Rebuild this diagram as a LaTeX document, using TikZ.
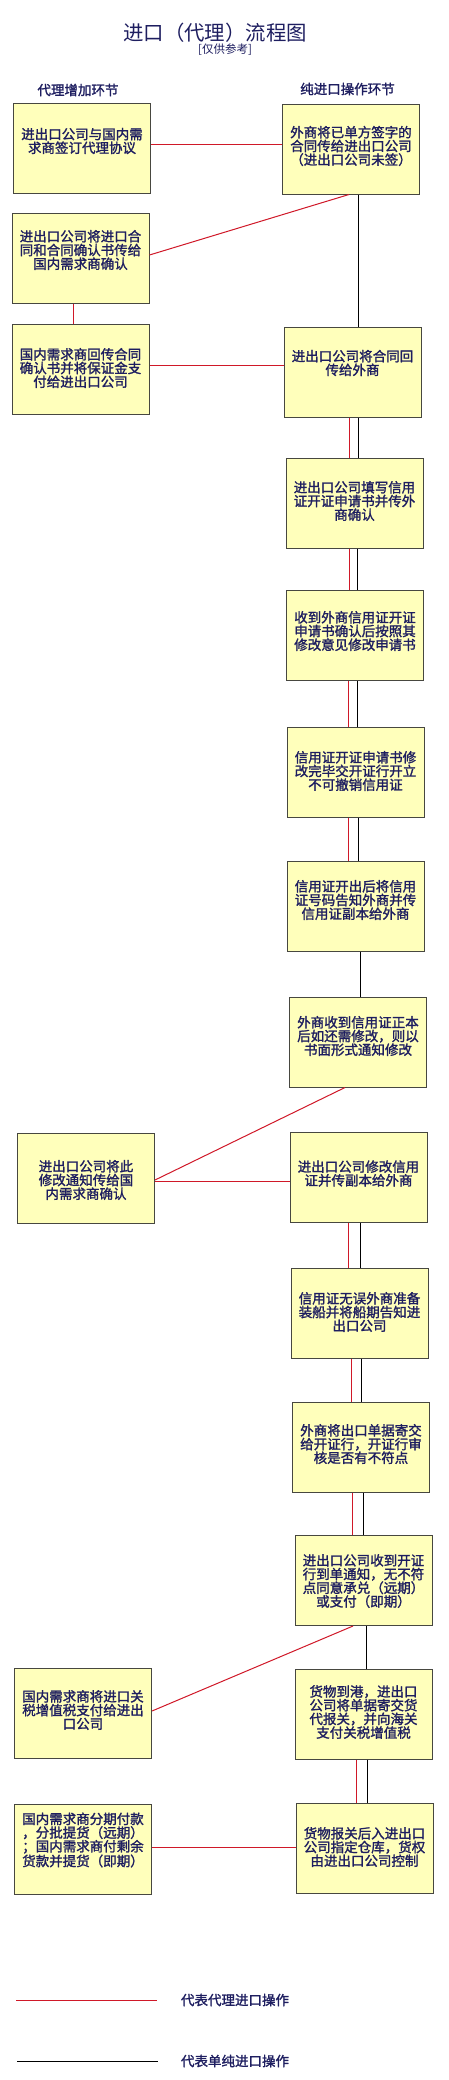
\documentclass[tikz,border=0pt]{standalone}
\usepackage{fontspec}
\newfontfamily\cjk[BoldFont={Noto Sans CJK SC}, BoldFeatures={FakeBold=1.6}]{Noto Sans CJK SC}
\definecolor{boxfill}{HTML}{FFFFBB}
\definecolor{boxline}{HTML}{474740}
\definecolor{navy}{HTML}{1E1E60}
\definecolor{agentred}{HTML}{D01828}
\begin{document}
\begin{tikzpicture}[x=1pt,y=-1pt,
  stepbox/.style={draw=boxline, fill=boxfill, line width=1pt, inner sep=0pt,
    minimum width=137pt, minimum height=90pt},
  txt/.style={text=navy, font=\cjk\bfseries\fontsize{13.5}{13.7}\selectfont,
    align=center, inner sep=0pt},
  head/.style={text=navy, font=\cjk\bfseries\fontsize{13.5}{14}\selectfont, inner sep=0pt},
  redln/.style={draw=agentred, line width=1pt},
  blkln/.style={draw=black, line width=1pt}]
\useasboundingbox[fill=white] (0,0) rectangle (448,2080);

% title
\node[text=navy, font=\cjk\fontsize{20.4}{22}\selectfont, inner sep=0pt] (title) at (215,33) {进口（代理）流程图};
\node[text=navy, font=\cjk\fontsize{11.5}{12}\selectfont, inner sep=0pt] (sub) at (225,50) {[仅供参考]};
\node[head] (hl) at (78,90) {代理增加环节};
\node[head] (hr) at (347.5,89) {纯进口操作环节};

% boxes
\node[stepbox] (L1) at (82,148.5) {};
\node[stepbox] (R1) at (351,149) {};
\node[stepbox] (L2) at (80.5,258.5) {};
\node[stepbox] (L3) at (80.5,369.5) {};
\node[stepbox] (R2) at (352.5,372) {};
\node[stepbox] (R3) at (354.5,503) {};
\node[stepbox] (R4) at (355,635.5) {};
\node[stepbox] (R5) at (355.5,772) {};
\node[stepbox] (R6) at (355.5,906) {};
\node[stepbox] (R7) at (358,1042) {};
\node[stepbox] (L4) at (86,1178.5) {};
\node[stepbox] (R8) at (358.5,1177.5) {};
\node[stepbox] (R9) at (359.5,1313) {};
\node[stepbox] (R10) at (361,1447) {};
\node[stepbox] (R11) at (363.5,1580.5) {};
\node[stepbox] (L5) at (83,1713) {};
\node[stepbox] (R12) at (363.5,1714) {};
\node[stepbox] (L6) at (83,1849.5) {};
\node[stepbox] (R13) at (364.5,1848.5) {};

% texts
\node[txt] (tL1) at (82,141) {进出口公司与国内需\\求商签订代理协议};
\node[txt] (tR1) at (351,146) {外商将已单方签字的\\合同传给进出口公司\\（进出口公司未签）};
\node[txt] (tL2) at (80.5,250) {进出口公司将进口合\\同和合同确认书传给\\国内需求商确认};
\node[txt] (tL3) at (80.5,368) {国内需求商回传合同\\确认书并将保证金支\\付给进出口公司};
\node[txt] (tR2) at (352.5,363) {进出口公司将合同回\\传给外商};
\node[txt] (tR3) at (354.5,501) {进出口公司填写信用\\证开证申请书并传外\\商确认};
\node[txt] (tR4) at (355,631) {收到外商信用证开证\\申请书确认后按照其\\修改意见修改申请书};
\node[txt] (tR5) at (355.5,771) {信用证开证申请书修\\改完毕交开证行开立\\不可撤销信用证};
\node[txt] (tR6) at (355.5,900) {信用证开出后将信用\\证号码告知外商并传\\信用证副本给外商};
\node[txt] (tR7) at (358,1036) {外商收到信用证正本\\后如还需修改，则以\\书面形式通知修改};
\node[txt] (tL4) at (86,1180) {进出口公司将此\\修改通知传给国\\内需求商确认};
\node[txt] (tR8) at (358.5,1173.5) {进出口公司修改信用\\证并传副本给外商};
\node[txt] (tR9) at (359.5,1312) {信用证无误外商准备\\装船并将船期告知进\\出口公司};
\node[txt] (tR10) at (361,1444) {外商将出口单据寄交\\给开证行，开证行审\\核是否有不符点};
\node[txt] (tR11) at (363.5,1581) {进出口公司收到开证\\行到单通知，无不符\\点同意承兑（远期）\\或支付（即期）};
\node[txt] (tL5) at (83,1710) {国内需求商将进口关\\税增值税支付给进出\\口公司};
\node[txt] (tR12) at (363.5,1712) {货物到港，进出口\\公司将单据寄交货\\代报关，并向海关\\支付关税增值税};
\node[txt] (tL6) at (83,1840) {国内需求商分期付款\\，分批提货（远期）\\；国内需求商付剩余\\货款并提货（即期）};
\node[txt] (tR13) at (364.5,1847) {货物报关后入进出口\\公司指定仓库，货权\\由进出口公司控制};

% connectors
\draw[redln] ([yshift=4.5pt]L1.east) -- ([yshift=4.5pt]L1.east -| R1.west);
\draw[redln] ([yshift=3.5pt]L2.east) -- ([xshift=-2pt]R1.south);
\draw[blkln] ([xshift=7pt]R1.south) -- ([xshift=7pt]R1.south |- R2.north);
\draw[redln] ([xshift=-7.5pt]L2.south) -- ([xshift=-7.5pt]L2.south |- L3.north);
\draw[redln] ([yshift=4.5pt]L3.east) -- ([yshift=4.5pt]L3.east -| R2.west);
\draw[redln] ([xshift=-3.5pt]R2.south) -- ([xshift=-3.5pt]R2.south |- R3.north);
\draw[blkln] ([xshift=5.5pt]R2.south) -- ([xshift=5.5pt]R2.south |- R3.north);
\draw[redln] ([xshift=-5.5pt]R3.south) -- ([xshift=-5.5pt]R3.south |- R4.north);
\draw[blkln] ([xshift=2.5pt]R3.south) -- ([xshift=2.5pt]R3.south |- R4.north);
\draw[redln] ([xshift=-7pt]R4.south) -- ([xshift=-7pt]R4.south |- R5.north);
\draw[blkln] ([xshift=2pt]R4.south) -- ([xshift=2pt]R4.south |- R5.north);
\draw[redln] ([xshift=-7.5pt]R5.south) -- ([xshift=-7.5pt]R5.south |- R6.north);
\draw[blkln] ([xshift=2.5pt]R5.south) -- ([xshift=2.5pt]R5.south |- R6.north);
\draw[blkln] ([xshift=4.5pt]R6.south) -- ([xshift=4.5pt]R6.south |- R7.north);
\draw[redln] ([xshift=-13pt]R7.south) -- ([yshift=-1.5pt]L4.east);
\draw[redln] ([yshift=-2.5pt]L4.east) -- ([yshift=-2.5pt]L4.east -| R8.west);
\draw[redln] ([xshift=-10.5pt]R8.south) -- ([xshift=-10.5pt]R8.south |- R9.north);
\draw[blkln] ([xshift=1.5pt]R8.south) -- ([xshift=1.5pt]R8.south |- R9.north);
\draw[redln] ([xshift=-8.5pt]R9.south) -- ([xshift=-8.5pt]R9.south |- R10.north);
\draw[blkln] ([xshift=1.5pt]R9.south) -- ([xshift=1.5pt]R9.south |- R10.north);
\draw[redln] ([xshift=-9pt]R10.south) -- ([xshift=-9pt]R10.south |- R11.north);
\draw[blkln] ([xshift=2pt]R10.south) -- ([xshift=2pt]R10.south |- R11.north);
\draw[redln] ([xshift=-10.5pt]R11.south) -- ([yshift=2pt]L5.east);
\draw[blkln] ([xshift=2.5pt]R11.south) -- ([xshift=2.5pt]R11.south |- R12.north);
\draw[redln] ([xshift=-7.5pt]R12.south) -- ([xshift=-7.5pt]R12.south |- R13.north);
\draw[blkln] ([xshift=3.5pt]R12.south) -- ([xshift=3.5pt]R12.south |- R13.north);
\draw[redln] ([yshift=2.5pt]L6.east) -- ([yshift=2.5pt]L6.east -| R13.west);

% legend
\coordinate (lr1) at (16,2000);
\coordinate (lr2) at (157,2000);
\coordinate (lb1) at (17,2061);
\coordinate (lb2) at (158,2061);
\draw[redln] (lr1) -- (lr2);
\draw[blkln] (lb1) -- (lb2);
\node[head] (leg1) at (235,2000) {代表代理进口操作};
\node[head] (leg2) at (235,2061) {代表单纯进口操作};
\end{tikzpicture}
\end{document}
